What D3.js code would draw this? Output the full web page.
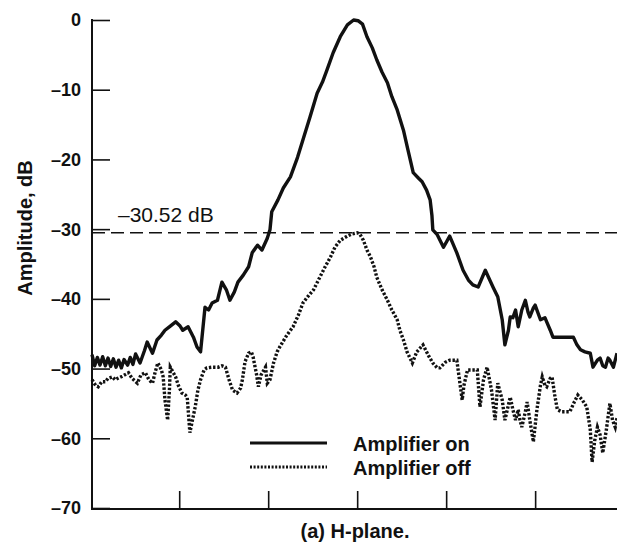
<!DOCTYPE html>
<html>
<head>
<meta charset="utf-8">
<script src="https://cdn.jsdelivr.net/npm/d3@7"></script>
<style>
  html, body { margin: 0; padding: 0; background: #fff; }
  svg { display: block; font-family: "Liberation Sans", Arial, Helvetica, sans-serif; }
</style>
</head>
<body>
<svg id="chart" width="617" height="545"></svg>
<script>
// H-plane antenna pattern: relative amplitude (dB) versus angle (deg)

// Amplifier on
const onAngle = [-29.8,-29.5,-29.2,-28.9,-28.6,-28.3,-28.0,-27.7,-27.4,-27.1,-26.8,-26.5,-26.2,-25.8,-25.5,-25.2,-24.9,-24.4,-23.9,-23.6,-23.0,-22.5,-22.0,-21.6,-21.0,-20.4,-19.9,-19.6,-19.0,-18.4,-18.0,-17.6,-17.1,-16.7,-16.3,-15.7,-15.2,-14.7,-14.3,-13.8,-13.4,-12.8,-12.2,-11.8,-11.2,-10.7,-10.1,-9.8,-9.6,-8.9,-8.3,-7.5,-6.7,-6.1,-5.3,-4.5,-3.9,-3.4,-2.7,-1.9,-1.1,-0.4,0.1,0.6,1.1,1.7,2.2,2.8,3.4,3.9,4.5,5.2,5.7,6.3,6.9,7.3,7.8,8.2,8.4,8.5,9.0,9.7,10.4,11.2,11.9,12.5,13.0,13.6,14.4,14.9,15.3,15.8,16.3,16.6,17.0,17.2,17.5,17.8,18.1,18.5,18.9,19.2,19.4,19.8,20.0,20.6,21.1,21.3,21.7,22.0,22.8,23.6,24.3,24.7,25.1,25.6,26.2,26.5,27.0,27.3,27.6,27.9,28.2,28.4,28.8,29.2];
const onDb = [-48.0,-49.6,-48.4,-49.5,-48.3,-49.6,-48.5,-49.7,-48.6,-49.8,-48.8,-49.9,-48.7,-49.5,-48.4,-49.4,-47.9,-49.2,-47.4,-46.2,-47.8,-45.9,-45.2,-44.5,-43.9,-43.3,-43.9,-44.5,-44.0,-45.5,-46.9,-47.6,-41.2,-41.6,-40.6,-40.2,-37.6,-38.7,-40.2,-39.0,-37.6,-36.6,-35.4,-33.4,-32.3,-33.0,-31.3,-30.1,-27.5,-25.8,-24.1,-22.5,-19.7,-17.2,-13.9,-10.5,-8.9,-7.2,-4.7,-2.4,-0.7,0,-0.1,-0.6,-2.4,-4.0,-5.7,-7.5,-9.0,-11.0,-12.9,-15.8,-18.6,-21.9,-22.7,-23.2,-24.4,-25.8,-28.0,-30.1,-30.8,-32.6,-31.0,-33.4,-35.9,-37.3,-38.0,-38.3,-35.9,-37.3,-38.4,-39.7,-43.0,-46.6,-44.5,-42.6,-42.7,-41.6,-44.0,-41.6,-40.2,-41.9,-42.6,-41.3,-40.9,-43.0,-42.7,-43.3,-44.5,-45.5,-45.5,-45.5,-45.5,-46.6,-47.3,-47.6,-47.8,-49.8,-48.8,-48.5,-49.6,-49.8,-48.5,-48.8,-49.8,-47.8];

// Amplifier off
const offAngle = [-29.8,-29.4,-29.1,-28.7,-28.3,-28.0,-27.5,-27.2,-26.9,-26.4,-25.7,-25.3,-24.7,-24.3,-23.8,-23.4,-23.0,-22.7,-22.4,-22.0,-21.8,-21.6,-21.3,-21.1,-21.0,-20.7,-20.4,-20.1,-19.7,-19.3,-19.1,-18.8,-18.4,-18.2,-17.9,-17.6,-17.2,-16.9,-16.3,-15.6,-15.2,-14.8,-14.4,-14.0,-13.5,-13.1,-12.9,-12.6,-12.2,-11.9,-11.7,-11.3,-11.1,-10.8,-10.3,-10.1,-9.8,-9.4,-9.0,-8.7,-7.9,-7.2,-6.6,-6.1,-5.5,-4.9,-4.2,-3.6,-3.0,-2.5,-1.9,-1.1,-0.6,0,0.3,0.7,1.1,1.5,1.9,2.2,2.8,3.4,3.9,4.5,4.8,5.2,5.6,6.2,6.7,7.4,8.0,8.5,9.0,9.3,9.9,10.4,11.2,11.8,12.0,12.4,12.9,13.5,13.8,14.2,14.6,15.1,15.5,15.8,16.3,16.6,17.0,17.2,17.5,17.8,18.1,18.3,18.5,18.9,19.1,19.4,19.8,20.2,20.6,20.8,21.1,21.3,21.7,21.9,22.2,22.5,23.0,23.5,23.9,24.4,24.8,25.3,25.8,26.2,26.4,26.7,27.0,27.3,27.6,28.0,28.4,28.7,29.0,29.2];
const offDb = [-51.6,-52.4,-52.6,-51.9,-51.9,-51.4,-51.2,-51.6,-51.4,-51.1,-50.6,-51.4,-52.1,-50.9,-50.6,-51.6,-52.1,-50.5,-49.2,-50.2,-51.2,-54.5,-57.4,-53.1,-49.8,-50.5,-51.2,-52.4,-53.5,-53.8,-54.1,-59.2,-56.7,-55.5,-53.1,-51.6,-50.2,-49.9,-49.8,-49.8,-49.6,-49.8,-51.6,-53.1,-53.5,-52.8,-51.6,-49.0,-47.8,-47.6,-48.3,-50.9,-52.6,-50.9,-49.8,-52.1,-51.6,-49.2,-47.6,-46.9,-45.2,-44.0,-42.3,-40.6,-39.6,-38.7,-36.9,-35.4,-34.0,-32.6,-31.6,-31.0,-30.7,-30.52,-30.7,-31.6,-33.0,-34.0,-35.4,-36.9,-38.7,-40.2,-41.6,-43.0,-44.5,-45.9,-47.6,-49.2,-47.6,-46.6,-48.1,-49.2,-49.9,-49.9,-49.1,-48.8,-48.8,-54.5,-52.4,-50.2,-50.2,-50.2,-55.5,-51.6,-49.8,-53.1,-57.4,-52.1,-54.5,-57.4,-55.2,-54.1,-55.9,-57.4,-55.9,-57.4,-58.4,-56.2,-54.8,-57.4,-60.5,-55.9,-52.4,-51.2,-52.4,-52.6,-51.4,-51.2,-53.8,-55.9,-56.2,-56.2,-56.2,-54.8,-53.8,-54.5,-55.5,-58.8,-63.4,-60.3,-58.4,-59.5,-62.1,-58.8,-55.0,-57.4,-58.4,-57.1];

// Axis ticks
const yTicks = [0, -10, -20, -30, -40, -50, -60, -70];
const xTicks = [-20, -10, 0, 10, 20];

// Reference level marked on the plot
const refLevel = -30.52;
const refLabel = "–30.52 dB";

const legendLabels = ["Amplifier on", "Amplifier off"];
const yTitle = "Amplitude, dB";
const caption = "(a) H-plane.";

const svg = d3.select("#chart");

const x = d3.scaleLinear().domain([-29.8, 29.2]).range([92, 617]);
const y = d3.scaleLinear().domain([0, -70]).range([20, 508]);

const fmt = d => d === 0 ? "0" : "–" + Math.abs(d);

// Left axis with inward ticks
const yAxis = d3.axisRight(y).tickValues(yTicks).tickSize(18).tickFormat("");
const gy = svg.append("g").attr("transform", `translate(${x.range()[0]},0)`).call(yAxis);
gy.select(".domain").remove();
gy.selectAll(".tick line").attr("stroke", "#111").attr("stroke-width", 1.6);

svg.append("line")
  .attr("x1", 92).attr("x2", 92)
  .attr("y1", y(0) - 1).attr("y2", y(-70) + 1)
  .attr("stroke", "#111").attr("stroke-width", 2);

svg.append("g").selectAll("text").data(yTicks).join("text")
  .attr("x", 81).attr("y", d => y(d))
  .attr("dy", "0.36em")
  .attr("text-anchor", "end")
  .attr("font-size", 18).attr("font-weight", "bold")
  .attr("fill", "#111")
  .text(fmt);

// Bottom axis with inward ticks
const xAxis = d3.axisTop(x).tickValues(xTicks).tickSize(18).tickFormat("");
const gx = svg.append("g").attr("transform", `translate(0,${y(-70) + 1})`).call(xAxis);
gx.select(".domain").remove();
gx.selectAll(".tick line").attr("stroke", "#111").attr("stroke-width", 1.6);

svg.append("line")
  .attr("x1", 91).attr("x2", 617)
  .attr("y1", y(-70) + 1).attr("y2", y(-70) + 1)
  .attr("stroke", "#111").attr("stroke-width", 2);

// Reference level
svg.append("line")
  .attr("x1", x(-29.8)).attr("x2", x(29.2))
  .attr("y1", y(refLevel)).attr("y2", y(refLevel))
  .attr("stroke", "#111").attr("stroke-width", 1.5)
  .attr("stroke-dasharray", "13,6");

svg.append("text")
  .attr("x", 118).attr("y", 222)
  .attr("font-size", 21).attr("fill", "#111")
  .text(refLabel);

// Curves
const line = d3.line().x(d => x(d[0])).y(d => y(d[1]));
const onData = onAngle.map((a, i) => [a, onDb[i]]);
const offData = offAngle.map((a, i) => [a, offDb[i]]);

svg.append("path")
  .datum(offData)
  .attr("d", line)
  .attr("fill", "none")
  .attr("stroke", "#111").attr("stroke-width", 3.4)
  .attr("stroke-dasharray", "2.4,1.8");

svg.append("path")
  .datum(onData)
  .attr("d", line)
  .attr("fill", "none")
  .attr("stroke", "#111").attr("stroke-width", 3.4)
  .attr("stroke-linejoin", "round");

// Legend
const legend = svg.append("g");
const legendY = [443, 467];
legend.append("line")
  .attr("x1", 250).attr("x2", 327).attr("y1", legendY[0]).attr("y2", legendY[0])
  .attr("stroke", "#111").attr("stroke-width", 3);
legend.append("line")
  .attr("x1", 250).attr("x2", 327).attr("y1", legendY[1]).attr("y2", legendY[1])
  .attr("stroke", "#111").attr("stroke-width", 3)
  .attr("stroke-dasharray", "2,1.6");
legend.selectAll("text").data(legendLabels).join("text")
  .attr("x", 353).attr("y", (d, i) => legendY[i] + 8)
  .attr("font-size", 20).attr("font-weight", "bold").attr("fill", "#111")
  .text(d => d);

// Axis title
svg.append("text")
  .attr("transform", "translate(32,228) rotate(-90)")
  .attr("text-anchor", "middle")
  .attr("font-size", 20).attr("font-weight", "bold").attr("fill", "#111")
  .text(yTitle);

// Caption
svg.append("text")
  .attr("x", 355).attr("y", 538)
  .attr("text-anchor", "middle")
  .attr("font-size", 20).attr("font-weight", "bold").attr("fill", "#111")
  .text(caption);
</script>
</body>
</html>
